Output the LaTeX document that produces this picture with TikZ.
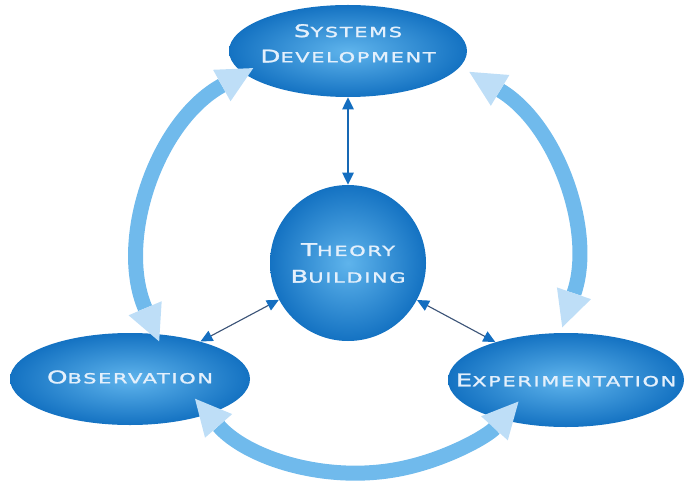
\documentclass[tikz,border=0pt]{standalone}
\usepackage{fontspec}
\usetikzlibrary{arrows.meta,shapes.geometric}
\newfontfamily\labelfont[FakeStretch=1.5,LetterSpace=12,FakeBold=1.6]{DejaVu Sans}
\definecolor{bubblein}{RGB}{95,180,236}
\definecolor{bubbleout}{RGB}{20,114,194}
\definecolor{labeltext}{RGB}{228,240,252}
\definecolor{cycblue}{RGB}{112,186,236}
\definecolor{cyctip}{RGB}{190,222,247}
\definecolor{linkblue}{RGB}{22,104,180}
\definecolor{linkgray}{RGB}{60,84,120}
\definecolor{tipblue}{RGB}{20,110,192}
\newcommand{\capword}[2]{\makebox[0pt]{{\fontsize{12.4}{15}\selectfont #1}{\fontsize{9.9}{12}\selectfont #2}}}

\begin{document}
\begin{tikzpicture}[
  bubble/.style={ellipse,shading=radial,inner color=bubblein,outer color=bubbleout,
    text=labeltext,font=\labelfont,align=center,inner sep=0pt},
  cyc/.style={{Triangle[length=0.9cm,width=0.9cm,line width=0pt,color=cyctip]}-{Triangle[length=0.9cm,width=0.9cm,line width=0pt,color=cyctip]},
    line width=0.375cm,draw=cycblue},
  link/.style={{Triangle[length=0.3cm,width=0.28cm,color=tipblue]}-{Triangle[length=0.3cm,width=0.28cm,color=tipblue]},
    line width=0.8pt,draw=linkgray}
]
\useasboundingbox (0,0) rectangle (17.3,12.175);

% Bubbles
\node[bubble,minimum width=5.95cm,minimum height=2.3cm,text depth=11pt] (sysdev) at (8.7,10.9) {\capword{S}{YSTEMS}\\[6pt]\capword{D}{EVELOPMENT}};
\node[bubble,circle,minimum size=3.9cm] (theory) at (8.7,5.6) {\capword{T}{HEORY}\\[7pt]\capword{B}{UILDING}};
\node[bubble,minimum width=6.0cm,minimum height=2.3cm,text depth=3pt] (observ) at (3.25,2.7) {\capword{O}{BSERVATION}};
\node[bubble,minimum width=5.9cm,minimum height=2.35cm] (experi) at (14.15,2.675) {\capword{E}{XPERIMENTATION}};

% Cycle arrows
\coordinate (hub) at (8.95,5.75);
\coordinate (sdl) at ([shift={(119:5.4)}]hub);
\coordinate (sdr) at ([shift={(59:5.4)}]hub);
\coordinate (obb) at ([shift={(221:5.4)}]hub);
\draw[cyc] (sdl) arc[start angle=119,end angle=203,radius=5.4];
\draw[cyc] (sdr) arc[start angle=59,end angle=-19,radius=5.4];
\draw[cyc] (obb) arc[start angle=221,end angle=318,radius=5.4];

% Links to theory
\draw[link,draw=linkblue,line width=1.4pt] (theory) -- (sysdev);
\draw[link] (theory) -- (observ);
\draw[link] (theory) -- (experi);
\end{tikzpicture}
\end{document}
